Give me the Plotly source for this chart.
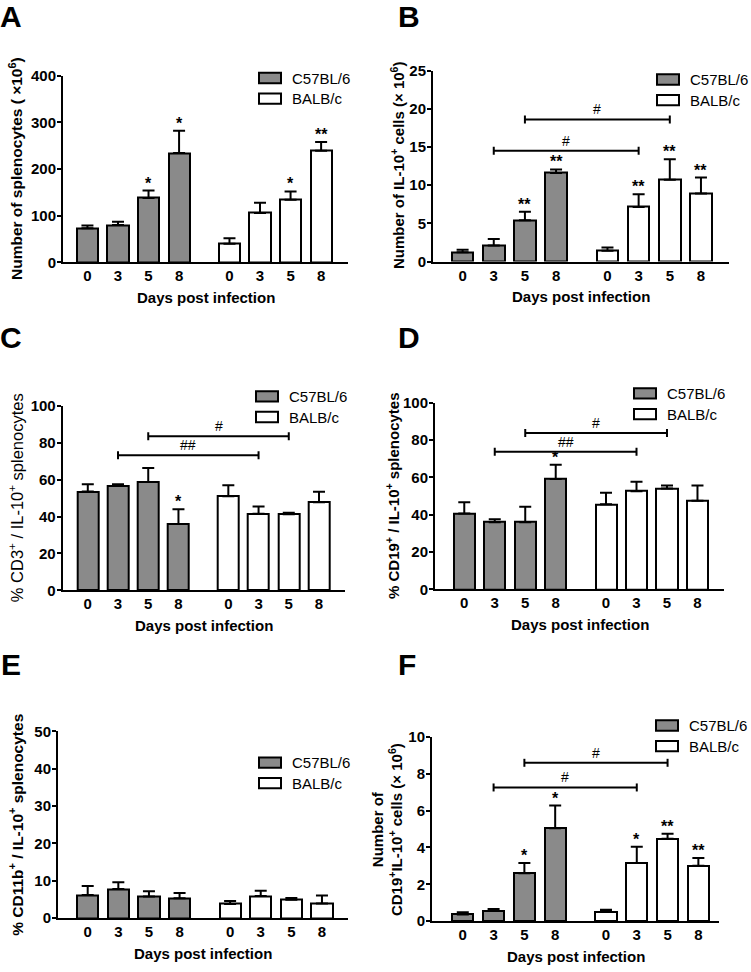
import plotly.graph_objects as go

W, H = 751, 972

days = ["0", "3", "5", "8"]
strains = ["C57BL/6", "BALB/c"]
x_title = "Days post infection"

# A - number of splenocytes (x10^6)
a_c57 = [73, 80, 138, 234]
a_c57_err = [6, 7, 16, 48]
a_balb = [40, 106, 134, 239]
a_balb_err = [12, 22, 18, 19]
a_c57_sig = ["", "", "*", "*"]
a_balb_sig = ["", "", "*", "**"]

# B - number of IL-10+ cells (x10^6)
b_c57 = [1.2, 2.1, 5.4, 11.6]
b_c57_err = [0.35, 0.85, 1.1, 0.45]
b_balb = [1.4, 7.15, 10.7, 8.9]
b_balb_err = [0.45, 1.65, 2.7, 2.1]
b_c57_sig = ["", "", "**", "**"]
b_balb_sig = ["", "**", "**", "**"]
b_bracket_y = [14.5, 18.6]
b_bracket_lbl = ["#", "#"]

# C - % CD3+ of IL-10+ splenocytes
c_c57 = [53.6, 56.6, 58.8, 36.0]
c_c57_err = [3.9, 0.9, 7.5, 8.0]
c_balb = [51.0, 41.6, 41.2, 47.8]
c_balb_err = [6.0, 3.9, 0.9, 5.7]
c_c57_sig = ["", "", "", "*"]
c_balb_sig = ["", "", "", ""]
c_bracket_y = [73.2, 83.5]
c_bracket_lbl = ["##", "#"]

# D - % CD19+ of IL-10+ splenocytes
d_c57 = [40.7, 36.0, 36.0, 59.1]
d_c57_err = [6.0, 1.5, 8.2, 7.7]
d_balb = [45.6, 52.6, 54.0, 47.5]
d_balb_err = [6.2, 5.1, 1.6, 8.1]
d_c57_sig = ["", "", "", "*"]
d_balb_sig = ["", "", "", ""]
d_bracket_y = [73.7, 83.7]
d_bracket_lbl = ["##", "#"]

# E - % CD11b+ of IL-10+ splenocytes
e_c57 = [6.2, 7.8, 5.8, 5.3]
e_c57_err = [2.4, 1.8, 1.4, 1.4]
e_balb = [3.8, 5.9, 4.9, 3.9]
e_balb_err = [0.8, 1.4, 0.5, 2.15]
e_c57_sig = ["", "", "", ""]
e_balb_sig = ["", "", "", ""]

# F - number of CD19+IL-10+ cells (x10^6)
f_c57 = [0.36, 0.55, 2.6, 5.04]
f_c57_err = [0.12, 0.11, 0.55, 1.24]
f_balb = [0.5, 3.15, 4.47, 3.0]
f_balb_err = [0.12, 0.89, 0.28, 0.43]
f_c57_sig = ["", "", "*", "*"]
f_balb_sig = ["", "*", "**", "**"]
f_bracket_y = [7.26, 8.6]
f_bracket_lbl = ["#", "#"]

bracket_days = [1, 2]  # day 3 vs day 3, day 5 vs day 5

panels = [
    dict(letter="A", c57=a_c57, c57e=a_c57_err, balb=a_balb, balbe=a_balb_err,
         c57s=a_c57_sig, balbs=a_balb_sig, by=[], bl=[], ymax=400, dtick=100,
         ytitle="Number of splenocytes ( \u00d710<sup>6</sup>)"),
    dict(letter="B", c57=b_c57, c57e=b_c57_err, balb=b_balb, balbe=b_balb_err,
         c57s=b_c57_sig, balbs=b_balb_sig, by=b_bracket_y, bl=b_bracket_lbl, ymax=25, dtick=5,
         ytitle="Number of IL-10<sup>+</sup> cells (\u00d7 10<sup>6</sup>)"),
    dict(letter="C", c57=c_c57, c57e=c_c57_err, balb=c_balb, balbe=c_balb_err,
         c57s=c_c57_sig, balbs=c_balb_sig, by=c_bracket_y, bl=c_bracket_lbl, ymax=100, dtick=20,
         ytitle="% CD3<sup>+</sup> / IL-10<sup>+</sup> splenocytes"),
    dict(letter="D", c57=d_c57, c57e=d_c57_err, balb=d_balb, balbe=d_balb_err,
         c57s=d_c57_sig, balbs=d_balb_sig, by=d_bracket_y, bl=d_bracket_lbl, ymax=100, dtick=20,
         ytitle="% CD19<sup>+</sup> / IL-10<sup>+</sup> splenocytes"),
    dict(letter="E", c57=e_c57, c57e=e_c57_err, balb=e_balb, balbe=e_balb_err,
         c57s=e_c57_sig, balbs=e_balb_sig, by=[], bl=[], ymax=50, dtick=10,
         ytitle="% CD11b<sup>+</sup> / IL-10<sup>+</sup> splenocytes"),
    dict(letter="F", c57=f_c57, c57e=f_c57_err, balb=f_balb, balbe=f_balb_err,
         c57s=f_c57_sig, balbs=f_balb_sig, by=f_bracket_y, bl=f_bracket_lbl, ymax=10, dtick=2,
         ytitle="Number of<br>CD19<sup>+</sup>IL-10<sup>+</sup> cells (\u00d7 10<sup>6</sup>)"),
]

# pixel geometry of each panel (axes box, x range, legend, titles, letter)
geom = [
    dict(x0=63, x1=348, yt=67.7, yb=258, xr=(-0.80, 8.53), leg=(259, 65), ytx=16, tw="bold", ts=15.5, let=(2, 15.5)),
    dict(x0=433, x1=729, yt=62.7, yb=257, xr=(-0.95, 8.55), leg=(657, 66.5), ytx=397, tw="bold", ts=15, let=(400, 16)),
    dict(x0=62.7, x1=345, yt=404, yb=591.7, xr=(-0.83, 8.51), leg=(256, 389), ytx=16, tw="normal", ts=16.5, let=(2, 342.5)),
    dict(x0=435, x1=724, yt=400.7, yb=590.7, xr=(-0.96, 8.52), leg=(634, 386), ytx=392, tw="bold", ts=15, let=(400, 342.5)),
    dict(x0=58, x1=348, yt=735.3, yb=925.3, xr=(-0.97, 8.50), leg=(259, 761.7), ytx=16, tw="bold", ts=15.5, let=(3, 675.5)),
    dict(x0=432, x1=719, yt=741, yb=928.3, xr=(-1.00, 8.32), leg=(656, 724), ytx=387, tw="bold", ts=15, let=(400, 675.5)),
]

FONT = "Liberation Sans, Arial, sans-serif"
GREY = "#8a8a8a"
gap = 4.65
bar_w = 0.69
c57_x = [i for i in range(len(days))]
balb_x = [gap + i for i in range(len(days))]


def px(x):
    return x / W


def py(y):
    return 1 - y / H


fig = go.Figure()
shapes = []
annots = []

for k, (p, g) in enumerate(zip(panels, geom)):
    n = "" if k == 0 else str(k + 1)
    xa, ya = "x" + n, "y" + n
    for xs, vals, errs, color, name in [
        (c57_x, p["c57"], p["c57e"], GREY, strains[0]),
        (balb_x, p["balb"], p["balbe"], "white", strains[1]),
    ]:
        fig.add_trace(go.Bar(
            x=xs, y=vals, width=bar_w, name=name, showlegend=False,
            marker=dict(color=color, line=dict(color="black", width=2)),
            error_y=dict(type="data", symmetric=False, array=errs,
                         arrayminus=[0] * len(errs), color="black",
                         thickness=2, width=6),
            xaxis=xa, yaxis=ya,
        ))
    # significance stars
    for xs, vals, errs, sig in [(c57_x, p["c57"], p["c57e"], p["c57s"]),
                                (balb_x, p["balb"], p["balbe"], p["balbs"])]:
        for xv, v, e, s in zip(xs, vals, errs, sig):
            if s:
                annots.append(dict(x=xv, y=v + e, xref=xa, yref=ya, text=s,
                                   showarrow=False, yanchor="bottom", yshift=-3,
                                   font=dict(family=FONT, size=16, color="black", weight="bold")))
    # between-strain brackets
    for d, yv, lbl in zip(bracket_days, p["by"], p["bl"]):
        xl, xr = c57_x[d], balb_x[d]
        shapes.append(dict(type="line", xref=xa, yref=ya, x0=xl, x1=xr, y0=yv, y1=yv,
                           line=dict(color="black", width=2)))
        for xe in (xl, xr):
            shapes.append(dict(type="line", xref=xa, yref=ya, x0=xe, x1=xe,
                               ysizemode="pixel", yanchor=yv, y0=-4, y1=4,
                               line=dict(color="black", width=2)))
        annots.append(dict(x=(xl + xr) / 2, y=yv, xref=xa, yref=ya, text=lbl,
                           showarrow=False, yanchor="bottom", yshift=0,
                           font=dict(family=FONT, size=14, color="black")))

    # axes
    fig.layout["xaxis" + n] = dict(
        domain=[px(g["x0"]), px(g["x1"])], range=list(g["xr"]), anchor=ya,
        tickvals=c57_x + balb_x, ticktext=days + days, ticks="", ticklabelstandoff=-1,
        showline=True, linecolor="black", linewidth=2, showgrid=False, zeroline=False,
        tickfont=dict(family=FONT, size=15, color="black", weight="bold"), fixedrange=True,
    )
    fig.layout["yaxis" + n] = dict(
        domain=[py(g["yb"]), py(g["yt"])], range=[0, p["ymax"]], dtick=p["dtick"], anchor=xa,
        ticks="outside", ticklen=4, tickwidth=2, tickcolor="black", ticklabelstandoff=-2,
        showline=True, linecolor="black", linewidth=2, showgrid=False, zeroline=False,
        tickfont=dict(family=FONT, size=15, color="black", weight="bold"), fixedrange=True,
    )

    # y title, x title
    annots.append(dict(x=px(g["ytx"]), y=py((g["yt"] + g["yb"]) / 2), xref="paper", yref="paper",
                       text=p["ytitle"], textangle=-90, showarrow=False,
                       xanchor="center", yanchor="middle",
                       font=dict(family=FONT, size=g["ts"], color="black", weight=g["tw"])))
    annots.append(dict(x=px((g["x0"] + g["x1"]) / 2), y=py(g["yb"] + 36), xref="paper", yref="paper",
                       text=x_title, showarrow=False, xanchor="center", yanchor="middle",
                       font=dict(family=FONT, size=15, color="black", weight="bold")))
    # panel letter
    annots.append(dict(x=px(g["let"][0] - 4), y=py(g["let"][1] - 8), xref="paper", yref="paper",
                       text=p["letter"], showarrow=False, xanchor="left", yanchor="middle",
                       font=dict(family=FONT, size=30, color="black", weight="bold")))
    # legend drawn as boxes + labels
    lx, ly = g["leg"]
    for j, (name, color) in enumerate(zip(strains, [GREY, "white"])):
        top = ly + 21 * j
        shapes.append(dict(type="rect", xref="paper", yref="paper",
                           x0=px(lx), x1=px(lx + 22), y0=py(top + 10.5), y1=py(top),
                           fillcolor=color, line=dict(color="black", width=2)))
        annots.append(dict(x=px(lx + 31), y=py(top + 5.5), xref="paper", yref="paper",
                           text=name, showarrow=False, xanchor="left", yanchor="middle",
                           font=dict(family=FONT, size=15, color="black")))

fig.update_layout(
    width=W, height=H, margin=dict(l=0, r=0, t=0, b=0),
    paper_bgcolor="white", plot_bgcolor="white",
    shapes=shapes, annotations=annots, showlegend=False,
    bargap=0,
)

# the page body has a default 8px margin; drop it so the figure sits at 0,0
fig.write_html("out.html", config={"displayModeBar": False},
               post_script="document.body.style.margin='0';")
